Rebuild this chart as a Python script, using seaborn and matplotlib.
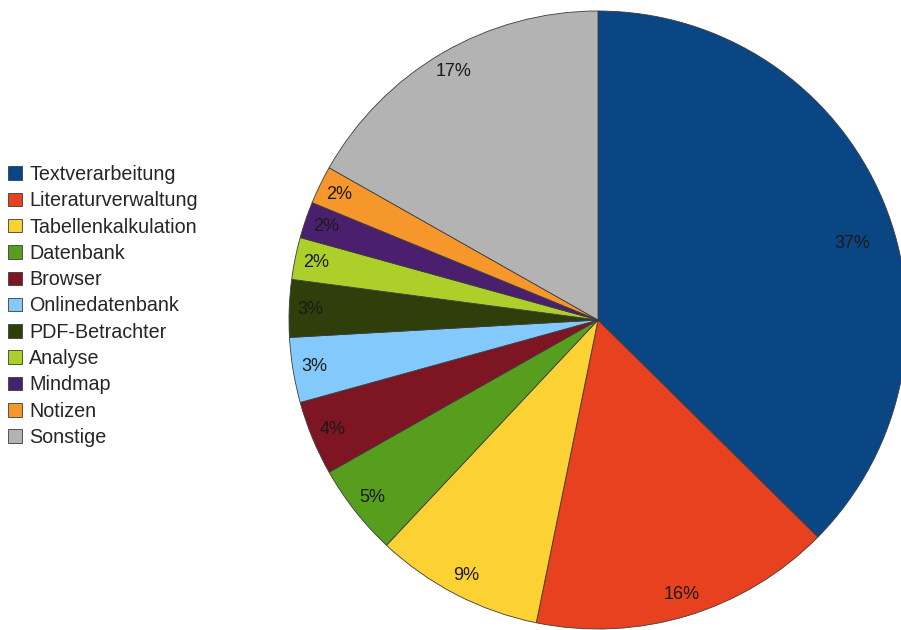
import matplotlib
import matplotlib.pyplot as plt
import seaborn as sns
import numpy as np

matplotlib.use('Agg')

# data (share in percent)
categories = ['Textverarbeitung', 'Literaturverwaltung', 'Tabellenkalkulation', 'Datenbank',
              'Browser', 'Onlinedatenbank', 'PDF-Betrachter', 'Analyse', 'Mindmap',
              'Notizen', 'Sonstige']
shares = [37.4, 15.8, 8.8, 4.8, 3.9, 3.4, 3.0, 2.2, 1.9, 2.0, 16.8]
slice_colors = ['#0a4584', '#e8411f', '#fbd133', '#579e1f', '#7e1522', '#84c9fb',
                '#2f3f0b', '#adcf2a', '#4a1f6e', '#f5972b', '#b3b3b3']

sns.set_theme(style='white')
plt.rcParams['font.family'] = ['Liberation Sans', 'DejaVu Sans']

palette = sns.color_palette(slice_colors)

fig = plt.figure(figsize=(9.01, 6.30), dpi=100)
# pie centre at about (598, 320) px, radius about 309 px
cx, cy, r = 598, 320, 309
ax = fig.add_axes([(cx - r) / 901, (630 - cy - r) / 630, 2 * r / 901, 2 * r / 630])

wedges, texts, autotexts = ax.pie(
    shares, colors=palette, startangle=90, counterclock=False,
    autopct='%1.0f%%', pctdistance=0.93,
    wedgeprops={'linewidth': 0.6, 'edgecolor': '#3c3c3c'},
    textprops={'fontsize': 13, 'color': '#1a1a1a'})
ax.set_xlim(-1, 1)
ax.set_ylim(-1, 1)

# the big slice's label sits a bit lower and further in
ang = np.deg2rad(16.8)
autotexts[0].set_position((0.86 * np.cos(ang), 0.86 * np.sin(ang)))

# legend on the left
fig.legend(wedges, categories, loc='upper left', bbox_to_anchor=(0.009, 1 - 165 / 630),
           frameon=False, fontsize=14.2, handlelength=0.68, handleheight=0.68,
           handletextpad=0.38, labelspacing=0.37, borderpad=0, borderaxespad=0)

plt.savefig('out.png', dpi=100)
